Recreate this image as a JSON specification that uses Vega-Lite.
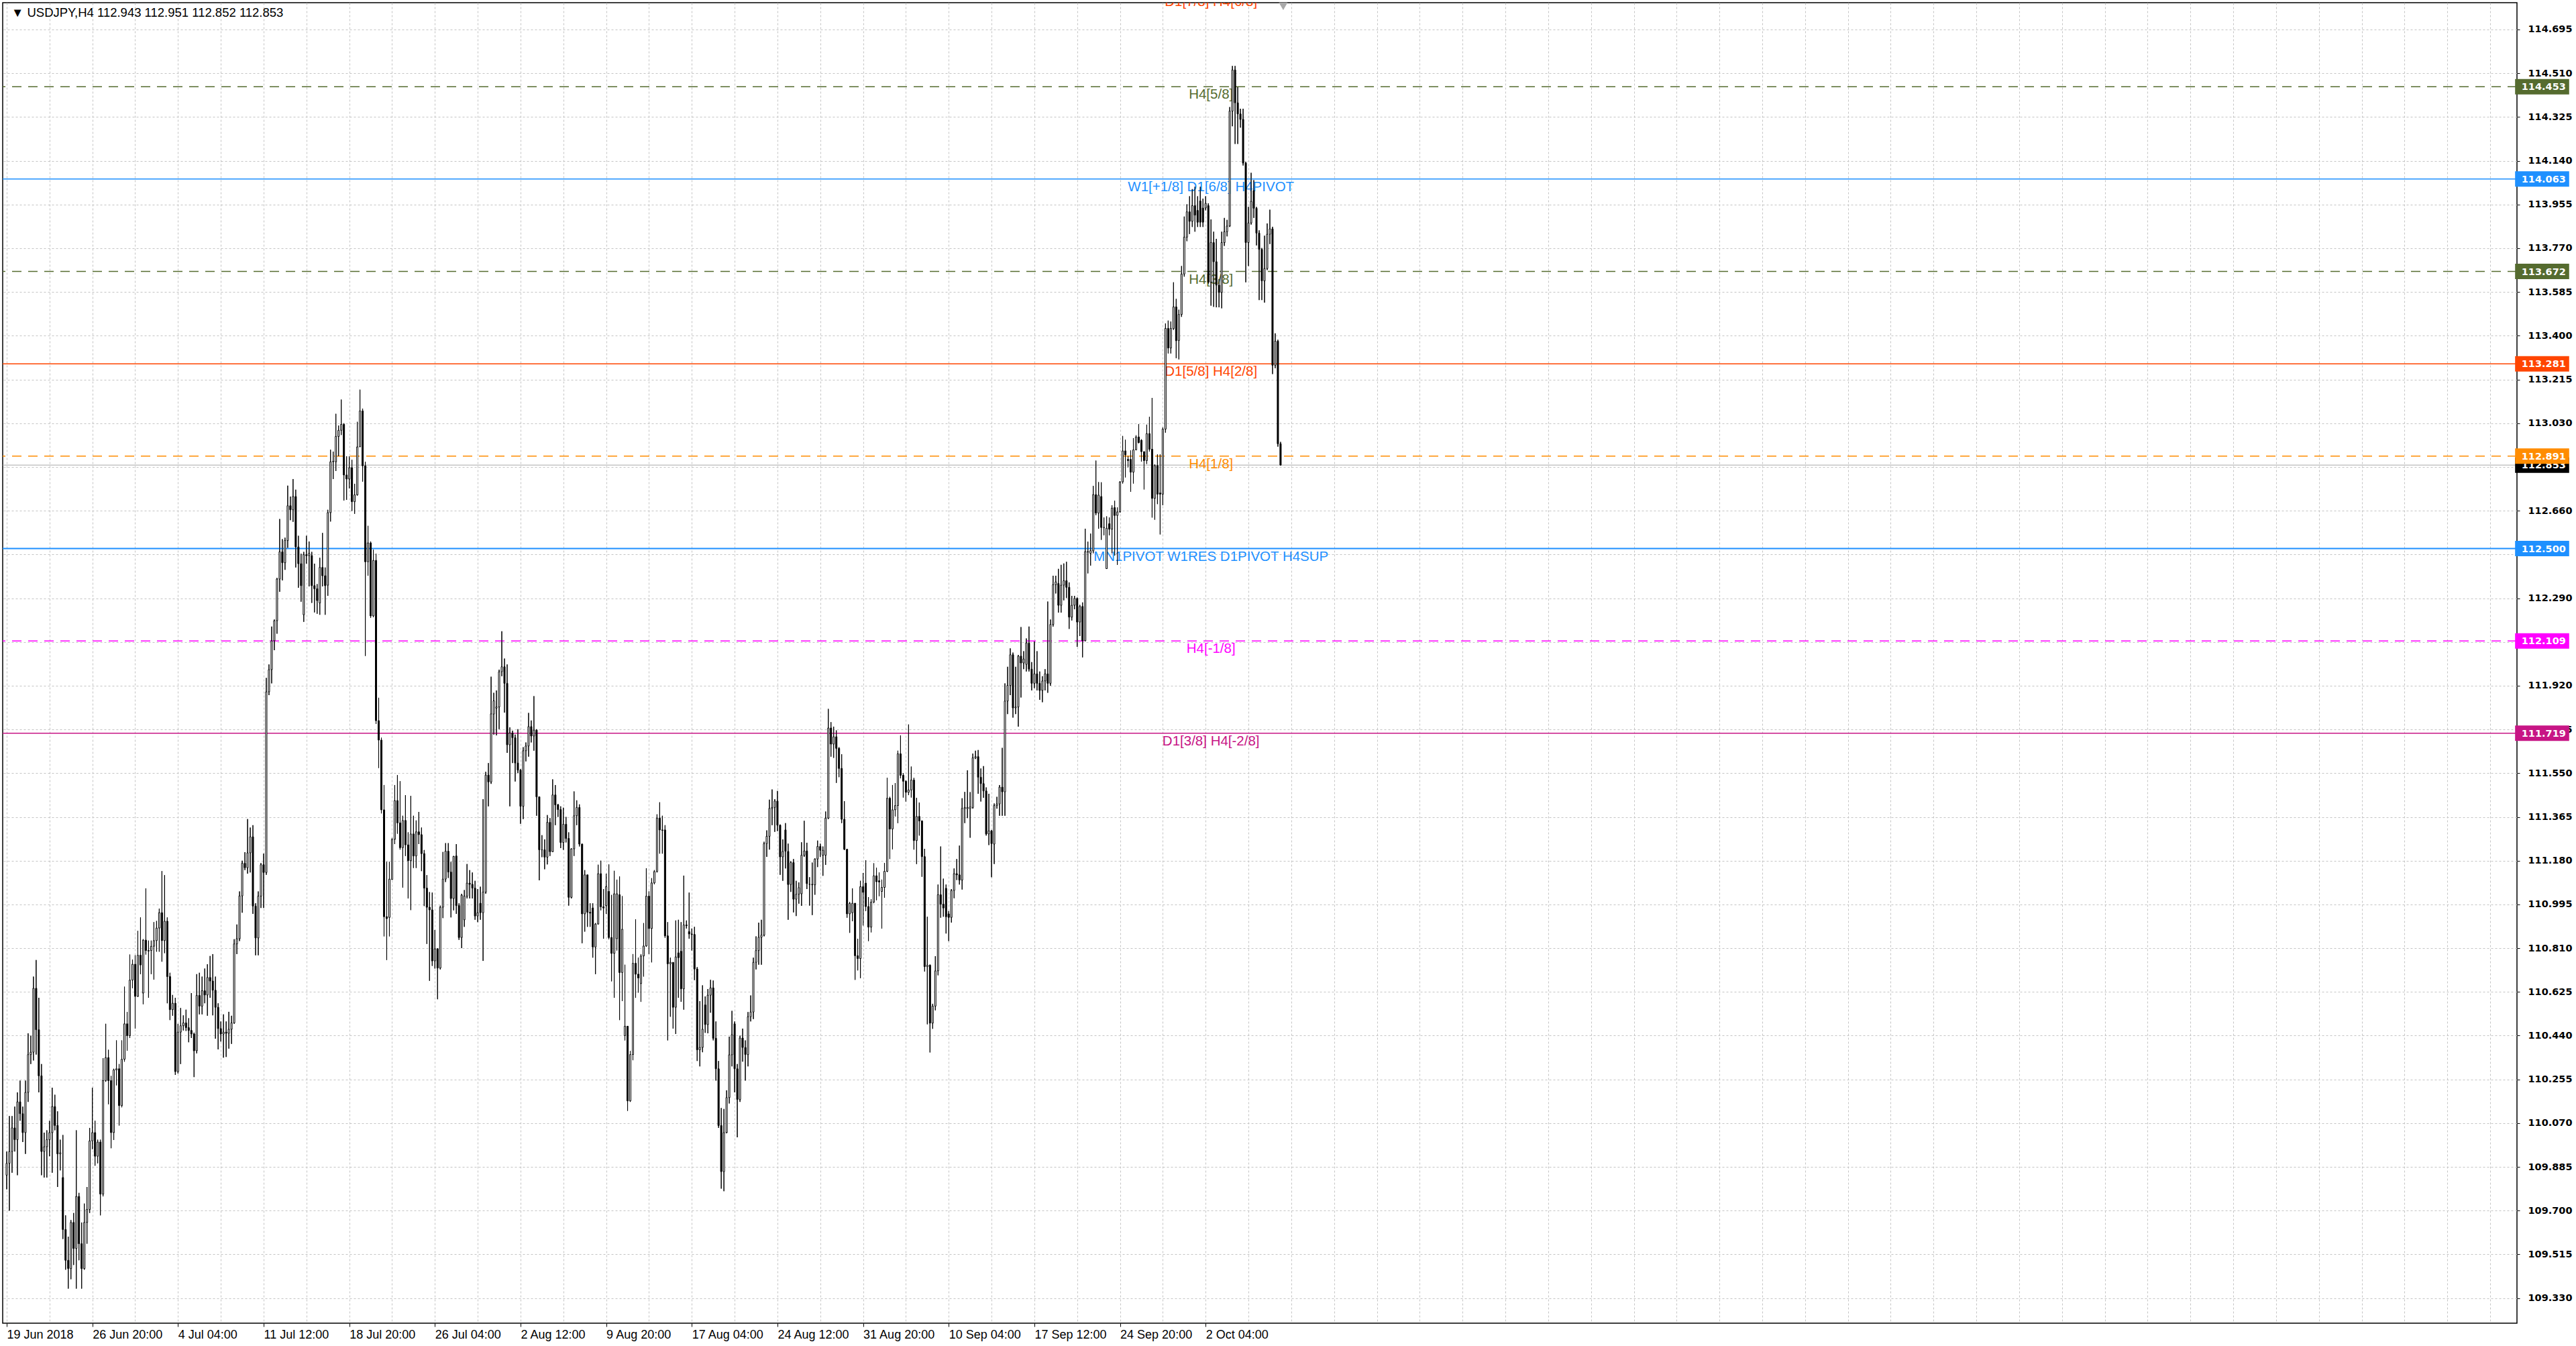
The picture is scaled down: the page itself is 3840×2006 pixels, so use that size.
{
  "$schema": "https://vega.github.io/schema/vega-lite/v6.json",
  "autosize": {"type": "none"},
  "width": 3748,
  "height": 1968,
  "padding": {"left": 4, "top": 4, "right": 88, "bottom": 34},
  "background": "white",
  "datasets": {
    "levels": [
      {"name": "D1[7/8] H4[6/8]", "price": 114.844},
      {"name": "H4[5/8]", "price": 114.453},
      {"name": "W1[+1/8] D1[6/8] H4PIVOT", "price": 114.063},
      {"name": "H4[3/8]", "price": 113.672},
      {"name": "D1[5/8] H4[2/8]", "price": 113.281},
      {"name": "H4[1/8]", "price": 112.891},
      {"name": "MN1PIVOT W1RES D1PIVOT H4SUP", "price": 112.5},
      {"name": "H4[-1/8]", "price": 112.109},
      {"name": "D1[3/8] H4[-2/8]", "price": 111.719}
    ],
    "bars": [
      {"i":0,"o":109.85,"h":109.95,"l":109.79,"c":109.9},
      {"i":1,"o":109.9,"h":110.1,"l":109.7,"c":109.95},
      {"i":2,"o":109.95,"h":110.1,"l":109.86,"c":110.05},
      {"i":3,"o":110.05,"h":110.14,"l":109.95,"c":110.0},
      {"i":4,"o":110.0,"h":110.2,"l":109.85,"c":110.16},
      {"i":5,"o":110.16,"h":110.25,"l":110.08,"c":110.11},
      {"i":6,"o":110.11,"h":110.14,"l":109.99,"c":110.03},
      {"i":7,"o":110.03,"h":110.25,"l":109.94,"c":110.2},
      {"i":8,"o":110.2,"h":110.45,"l":110.16,"c":110.36},
      {"i":9,"o":110.36,"h":110.44,"l":110.32,"c":110.37},
      {"i":10,"o":110.37,"h":110.69,"l":110.335,"c":110.64},
      {"i":11,"o":110.64,"h":110.76,"l":110.36,"c":110.465},
      {"i":12,"o":110.465,"h":110.6,"l":110.2,"c":110.27},
      {"i":13,"o":110.27,"h":110.32,"l":109.85,"c":109.95},
      {"i":14,"o":109.95,"h":110.03,"l":109.84,"c":109.97},
      {"i":15,"o":109.97,"h":110.04,"l":109.84,"c":110.0},
      {"i":16,"o":110.0,"h":110.08,"l":109.93,"c":110.03},
      {"i":17,"o":110.03,"h":110.22,"l":109.86,"c":110.14},
      {"i":18,"o":110.14,"h":110.19,"l":110.04,"c":110.06},
      {"i":19,"o":110.06,"h":110.12,"l":109.8,"c":109.94},
      {"i":20,"o":109.94,"h":110.0,"l":109.87,"c":109.945},
      {"i":21,"o":109.84,"h":110.02,"l":109.58,"c":109.62},
      {"i":22,"o":109.62,"h":109.68,"l":109.45,"c":109.49},
      {"i":23,"o":109.49,"h":109.59,"l":109.37,"c":109.455},
      {"i":24,"o":109.455,"h":109.66,"l":109.41,"c":109.65},
      {"i":25,"o":109.65,"h":109.69,"l":109.47,"c":109.54},
      {"i":26,"o":109.54,"h":110.04,"l":109.37,"c":109.76},
      {"i":27,"o":109.76,"h":109.775,"l":109.49,"c":109.56},
      {"i":28,"o":109.56,"h":109.65,"l":109.37,"c":109.455},
      {"i":29,"o":109.455,"h":109.73,"l":109.45,"c":109.65},
      {"i":30,"o":109.65,"h":109.8,"l":109.56,"c":109.705},
      {"i":31,"o":109.705,"h":110.05,"l":109.69,"c":109.995},
      {"i":32,"o":109.995,"h":110.22,"l":109.96,"c":110.03},
      {"i":33,"o":110.03,"h":110.08,"l":109.89,"c":109.93},
      {"i":34,"o":109.93,"h":110.0,"l":109.9,"c":109.99},
      {"i":35,"o":109.99,"h":110.0,"l":109.68,"c":109.77},
      {"i":36,"o":109.77,"h":110.345,"l":109.76,"c":110.25},
      {"i":37,"o":110.25,"h":110.49,"l":110.245,"c":110.347},
      {"i":38,"o":110.347,"h":110.38,"l":110.15,"c":110.25},
      {"i":39,"o":110.25,"h":110.27,"l":109.964,"c":110.03},
      {"i":40,"o":110.03,"h":110.3,"l":109.999,"c":110.295},
      {"i":41,"o":110.295,"h":110.42,"l":110.23,"c":110.3},
      {"i":42,"o":110.3,"h":110.32,"l":110.06,"c":110.144},
      {"i":43,"o":110.144,"h":110.42,"l":110.137,"c":110.34},
      {"i":44,"o":110.34,"h":110.647,"l":110.33,"c":110.49},
      {"i":45,"o":110.49,"h":110.54,"l":110.376,"c":110.44},
      {"i":46,"o":110.44,"h":110.783,"l":110.43,"c":110.675},
      {"i":47,"o":110.675,"h":110.762,"l":110.641,"c":110.742},
      {"i":48,"o":110.742,"h":110.78,"l":110.47,"c":110.606},
      {"i":49,"o":110.606,"h":110.883,"l":110.604,"c":110.78},
      {"i":50,"o":110.78,"h":110.94,"l":110.7,"c":110.739},
      {"i":51,"o":110.62,"h":110.848,"l":110.573,"c":110.844},
      {"i":52,"o":110.844,"h":111.063,"l":110.783,"c":110.8},
      {"i":53,"o":110.8,"h":110.842,"l":110.6,"c":110.798},
      {"i":54,"o":110.8,"h":110.842,"l":110.7,"c":110.818},
      {"i":55,"o":110.818,"h":110.92,"l":110.677,"c":110.842},
      {"i":56,"o":110.842,"h":110.925,"l":110.795,"c":110.895},
      {"i":57,"o":110.895,"h":110.977,"l":110.795,"c":110.96},
      {"i":58,"o":110.96,"h":111.136,"l":110.753,"c":110.842},
      {"i":59,"o":110.842,"h":111.119,"l":110.789,"c":110.924},
      {"i":60,"o":110.924,"h":110.94,"l":110.577,"c":110.69},
      {"i":61,"o":110.69,"h":110.706,"l":110.506,"c":110.55},
      {"i":62,"o":110.55,"h":110.612,"l":110.524,"c":110.577},
      {"i":63,"o":110.577,"h":110.6,"l":110.274,"c":110.288},
      {"i":64,"o":110.288,"h":110.49,"l":110.28,"c":110.455},
      {"i":65,"o":110.455,"h":110.557,"l":110.32,"c":110.482},
      {"i":66,"o":110.482,"h":110.526,"l":110.462,"c":110.494},
      {"i":67,"o":110.494,"h":110.55,"l":110.46,"c":110.474},
      {"i":68,"o":110.474,"h":110.514,"l":110.412,"c":110.462},
      {"i":69,"o":110.462,"h":110.62,"l":110.43,"c":110.447},
      {"i":70,"o":110.447,"h":110.453,"l":110.265,"c":110.376},
      {"i":71,"o":110.376,"h":110.7,"l":110.365,"c":110.61},
      {"i":72,"o":110.61,"h":110.706,"l":110.53,"c":110.565},
      {"i":73,"o":110.565,"h":110.69,"l":110.53,"c":110.63},
      {"i":74,"o":110.63,"h":110.724,"l":110.577,"c":110.612},
      {"i":75,"o":110.612,"h":110.742,"l":110.524,"c":110.686},
      {"i":76,"o":110.686,"h":110.777,"l":110.6,"c":110.671},
      {"i":77,"o":110.671,"h":110.785,"l":110.526,"c":110.632},
      {"i":78,"o":110.632,"h":110.69,"l":110.427,"c":110.56},
      {"i":79,"o":110.56,"h":110.577,"l":110.382,"c":110.47},
      {"i":80,"o":110.47,"h":110.5,"l":110.415,"c":110.447},
      {"i":81,"o":110.447,"h":110.53,"l":110.347,"c":110.455},
      {"i":82,"o":110.455,"h":110.5,"l":110.35,"c":110.45},
      {"i":83,"o":110.45,"h":110.541,"l":110.385,"c":110.467},
      {"i":84,"o":110.467,"h":110.524,"l":110.405,"c":110.494},
      {"i":85,"o":110.494,"h":110.848,"l":110.49,"c":110.828},
      {"i":86,"o":110.828,"h":110.91,"l":110.785,"c":110.85},
      {"i":87,"o":110.85,"h":111.05,"l":110.84,"c":111.031},
      {"i":88,"o":111.031,"h":111.18,"l":110.96,"c":111.169},
      {"i":89,"o":111.169,"h":111.216,"l":111.14,"c":111.15},
      {"i":90,"o":111.15,"h":111.356,"l":111.125,"c":111.213},
      {"i":91,"o":111.213,"h":111.32,"l":111.13,"c":111.281},
      {"i":92,"o":111.281,"h":111.33,"l":110.955,"c":110.988},
      {"i":93,"o":110.988,"h":111.0,"l":110.78,"c":110.853},
      {"i":94,"o":110.853,"h":111.05,"l":110.78,"c":111.03},
      {"i":95,"o":111.03,"h":111.17,"l":110.98,"c":111.163},
      {"i":96,"o":111.163,"h":111.21,"l":110.98,"c":111.13},
      {"i":97,"o":111.13,"h":111.953,"l":111.12,"c":111.894},
      {"i":98,"o":111.894,"h":112.01,"l":111.88,"c":111.988},
      {"i":99,"o":111.988,"h":112.17,"l":111.93,"c":112.11},
      {"i":100,"o":112.11,"h":112.2,"l":112.07,"c":112.195},
      {"i":101,"o":112.195,"h":112.376,"l":112.14,"c":112.371},
      {"i":102,"o":112.371,"h":112.625,"l":112.317,"c":112.486},
      {"i":103,"o":112.486,"h":112.54,"l":112.365,"c":112.44},
      {"i":104,"o":112.44,"h":112.546,"l":112.41,"c":112.534},
      {"i":105,"o":112.534,"h":112.766,"l":112.503,"c":112.681},
      {"i":106,"o":112.681,"h":112.72,"l":112.62,"c":112.664},
      {"i":107,"o":112.664,"h":112.794,"l":112.613,"c":112.72},
      {"i":108,"o":112.72,"h":112.749,"l":112.42,"c":112.507},
      {"i":109,"o":112.507,"h":112.554,"l":112.334,"c":112.436},
      {"i":110,"o":112.436,"h":112.478,"l":112.275,"c":112.343},
      {"i":111,"o":112.22,"h":112.486,"l":112.19,"c":112.474},
      {"i":112,"o":112.474,"h":112.554,"l":112.436,"c":112.47},
      {"i":113,"o":112.47,"h":112.53,"l":112.34,"c":112.48},
      {"i":114,"o":112.47,"h":112.486,"l":112.27,"c":112.343},
      {"i":115,"o":112.343,"h":112.436,"l":112.23,"c":112.33},
      {"i":116,"o":112.33,"h":112.35,"l":112.224,"c":112.28},
      {"i":117,"o":112.27,"h":112.461,"l":112.22,"c":112.42},
      {"i":118,"o":112.42,"h":112.566,"l":112.34,"c":112.385},
      {"i":119,"o":112.385,"h":112.42,"l":112.22,"c":112.343},
      {"i":120,"o":112.345,"h":112.664,"l":112.3,"c":112.652},
      {"i":121,"o":112.652,"h":112.918,"l":112.614,"c":112.867},
      {"i":122,"o":112.867,"h":112.91,"l":112.794,"c":112.869},
      {"i":123,"o":112.867,"h":113.07,"l":112.828,"c":112.974},
      {"i":124,"o":112.974,"h":113.02,"l":112.89,"c":113.0},
      {"i":125,"o":113.0,"h":113.13,"l":112.98,"c":113.025},
      {"i":126,"o":113.025,"h":113.03,"l":112.703,"c":112.811},
      {"i":127,"o":112.811,"h":112.89,"l":112.706,"c":112.794},
      {"i":128,"o":112.794,"h":112.89,"l":112.754,"c":112.842},
      {"i":129,"o":112.842,"h":112.875,"l":112.659,"c":112.698},
      {"i":130,"o":112.698,"h":112.774,"l":112.647,"c":112.727},
      {"i":131,"o":112.727,"h":113.036,"l":112.724,"c":112.93},
      {"i":132,"o":112.93,"h":113.172,"l":112.93,"c":113.082},
      {"i":133,"o":113.082,"h":113.092,"l":112.783,"c":112.85},
      {"i":134,"o":112.85,"h":112.867,"l":112.046,"c":112.444},
      {"i":135,"o":112.444,"h":112.596,"l":112.385,"c":112.524},
      {"i":136,"o":112.524,"h":112.53,"l":112.207,"c":112.215},
      {"i":137,"o":112.215,"h":112.495,"l":112.21,"c":112.45},
      {"i":138,"o":112.45,"h":112.478,"l":111.758,"c":111.772},
      {"i":139,"o":111.772,"h":111.869,"l":111.572,"c":111.69},
      {"i":140,"o":111.69,"h":111.7,"l":111.38,"c":111.395},
      {"i":141,"o":111.395,"h":111.5,"l":110.86,"c":110.943},
      {"i":142,"o":110.943,"h":111.175,"l":110.76,"c":110.935},
      {"i":143,"o":110.94,"h":111.175,"l":110.86,"c":111.102},
      {"i":144,"o":111.1,"h":111.276,"l":111.1,"c":111.27},
      {"i":145,"o":111.27,"h":111.5,"l":111.25,"c":111.434},
      {"i":146,"o":111.434,"h":111.542,"l":111.294,"c":111.34},
      {"i":147,"o":111.34,"h":111.516,"l":111.227,"c":111.235},
      {"i":148,"o":111.235,"h":111.37,"l":111.066,"c":111.35},
      {"i":149,"o":111.35,"h":111.457,"l":111.2,"c":111.247},
      {"i":150,"o":111.247,"h":111.3,"l":111.02,"c":111.18},
      {"i":151,"o":111.18,"h":111.454,"l":110.971,"c":111.293},
      {"i":152,"o":111.293,"h":111.37,"l":111.149,"c":111.2},
      {"i":153,"o":111.2,"h":111.35,"l":111.149,"c":111.302},
      {"i":154,"o":111.302,"h":111.386,"l":111.25,"c":111.29},
      {"i":155,"o":111.29,"h":111.32,"l":111.136,"c":111.21},
      {"i":156,"o":111.21,"h":111.225,"l":110.988,"c":111.064},
      {"i":157,"o":111.064,"h":111.119,"l":110.828,"c":110.983},
      {"i":158,"o":110.983,"h":111.047,"l":110.672,"c":110.972},
      {"i":159,"o":110.972,"h":111.045,"l":110.735,"c":110.756},
      {"i":160,"o":110.756,"h":110.887,"l":110.724,"c":110.807},
      {"i":161,"o":110.807,"h":110.81,"l":110.594,"c":110.726},
      {"i":162,"o":110.726,"h":110.99,"l":110.72,"c":110.983},
      {"i":163,"o":110.983,"h":111.217,"l":110.937,"c":111.102},
      {"i":164,"o":111.102,"h":111.254,"l":111.09,"c":111.22},
      {"i":165,"o":111.22,"h":111.254,"l":111.107,"c":111.132},
      {"i":166,"o":111.132,"h":111.175,"l":110.94,"c":111.02},
      {"i":167,"o":111.02,"h":111.2,"l":110.97,"c":111.198},
      {"i":168,"o":111.2,"h":111.25,"l":110.955,"c":110.99},
      {"i":169,"o":110.99,"h":111.0,"l":110.845,"c":110.855},
      {"i":170,"o":110.855,"h":111.04,"l":110.81,"c":111.034},
      {"i":171,"o":110.93,"h":111.056,"l":110.9,"c":111.03},
      {"i":172,"o":111.03,"h":111.166,"l":111.02,"c":111.085},
      {"i":173,"o":111.085,"h":111.14,"l":111.02,"c":111.08},
      {"i":174,"o":111.08,"h":111.13,"l":111.02,"c":111.064},
      {"i":175,"o":111.064,"h":111.095,"l":110.93,"c":110.946},
      {"i":176,"o":110.946,"h":111.06,"l":110.92,"c":110.96},
      {"i":177,"o":111.0,"h":111.07,"l":110.93,"c":110.96},
      {"i":178,"o":110.96,"h":111.44,"l":110.756,"c":111.047},
      {"i":179,"o":111.047,"h":111.556,"l":111.04,"c":111.542},
      {"i":180,"o":111.542,"h":111.593,"l":111.41,"c":111.513},
      {"i":181,"o":111.513,"h":111.958,"l":111.505,"c":111.801},
      {"i":182,"o":111.8,"h":111.89,"l":111.713,"c":111.856},
      {"i":183,"o":111.825,"h":111.9,"l":111.71,"c":111.83},
      {"i":184,"o":111.83,"h":111.988,"l":111.736,"c":111.979},
      {"i":185,"o":111.979,"h":112.15,"l":111.96,"c":112.0},
      {"i":186,"o":112.0,"h":112.035,"l":111.806,"c":111.93},
      {"i":187,"o":111.93,"h":112.01,"l":111.636,"c":111.67},
      {"i":188,"o":111.67,"h":111.744,"l":111.41,"c":111.72},
      {"i":189,"o":111.72,"h":111.73,"l":111.593,"c":111.7},
      {"i":190,"o":111.7,"h":111.713,"l":111.515,"c":111.593},
      {"i":191,"o":111.593,"h":111.736,"l":111.55,"c":111.563},
      {"i":192,"o":111.563,"h":111.567,"l":111.336,"c":111.41},
      {"i":193,"o":111.41,"h":111.66,"l":111.356,"c":111.645},
      {"i":194,"o":111.645,"h":111.68,"l":111.6,"c":111.665},
      {"i":195,"o":111.665,"h":111.805,"l":111.62,"c":111.747},
      {"i":196,"o":111.747,"h":111.773,"l":111.68,"c":111.707},
      {"i":197,"o":111.707,"h":111.876,"l":111.645,"c":111.732},
      {"i":198,"o":111.732,"h":111.736,"l":111.37,"c":111.45},
      {"i":199,"o":111.45,"h":111.45,"l":111.097,"c":111.226},
      {"i":200,"o":111.226,"h":111.288,"l":111.195,"c":111.226},
      {"i":201,"o":111.226,"h":111.27,"l":111.144,"c":111.195},
      {"i":202,"o":111.195,"h":111.373,"l":111.164,"c":111.342},
      {"i":203,"o":111.342,"h":111.36,"l":111.2,"c":111.218},
      {"i":204,"o":111.218,"h":111.524,"l":111.216,"c":111.458},
      {"i":205,"o":111.458,"h":111.5,"l":111.33,"c":111.416},
      {"i":206,"o":111.416,"h":111.42,"l":111.365,"c":111.396},
      {"i":207,"o":111.396,"h":111.41,"l":111.233,"c":111.257},
      {"i":208,"o":111.257,"h":111.404,"l":111.226,"c":111.334},
      {"i":209,"o":111.334,"h":111.365,"l":111.257,"c":111.274},
      {"i":210,"o":111.274,"h":111.3,"l":110.99,"c":111.025},
      {"i":211,"o":111.025,"h":111.232,"l":111.02,"c":111.23},
      {"i":212,"o":111.23,"h":111.473,"l":111.2,"c":111.37},
      {"i":213,"o":111.37,"h":111.435,"l":111.33,"c":111.405},
      {"i":214,"o":111.405,"h":111.418,"l":111.24,"c":111.25},
      {"i":215,"o":111.25,"h":111.252,"l":110.831,"c":110.955},
      {"i":216,"o":110.955,"h":111.14,"l":110.88,"c":111.12},
      {"i":217,"o":111.12,"h":111.12,"l":110.9,"c":110.962},
      {"i":218,"o":110.962,"h":111.0,"l":110.9,"c":110.958},
      {"i":219,"o":110.98,"h":111.0,"l":110.77,"c":110.815},
      {"i":220,"o":110.815,"h":110.916,"l":110.7,"c":110.912},
      {"i":221,"o":110.912,"h":111.163,"l":110.91,"c":111.125},
      {"i":222,"o":111.125,"h":111.18,"l":110.97,"c":110.985},
      {"i":223,"o":110.985,"h":111.06,"l":110.85,"c":110.98},
      {"i":224,"o":110.99,"h":111.125,"l":110.955,"c":111.07},
      {"i":225,"o":111.05,"h":111.164,"l":110.847,"c":110.855},
      {"i":226,"o":110.855,"h":111.035,"l":110.67,"c":110.788},
      {"i":227,"o":110.788,"h":111.137,"l":110.6,"c":111.04},
      {"i":228,"o":110.85,"h":111.1,"l":110.8,"c":111.04},
      {"i":229,"o":111.036,"h":111.113,"l":110.506,"c":110.707},
      {"i":230,"o":110.707,"h":111.03,"l":110.586,"c":110.89},
      {"i":231,"o":110.44,"h":110.74,"l":110.42,"c":110.48},
      {"i":232,"o":110.48,"h":110.48,"l":110.122,"c":110.164},
      {"i":233,"o":110.164,"h":110.375,"l":110.16,"c":110.36},
      {"i":234,"o":110.36,"h":110.785,"l":110.336,"c":110.746},
      {"i":235,"o":110.746,"h":110.932,"l":110.6,"c":110.7},
      {"i":236,"o":110.7,"h":110.77,"l":110.622,"c":110.684},
      {"i":237,"o":110.66,"h":110.785,"l":110.583,"c":110.777},
      {"i":238,"o":110.777,"h":110.916,"l":110.69,"c":110.819},
      {"i":239,"o":110.819,"h":111.148,"l":110.816,"c":111.03},
      {"i":240,"o":111.03,"h":111.05,"l":110.785,"c":110.893},
      {"i":241,"o":110.893,"h":111.106,"l":110.75,"c":111.086},
      {"i":242,"o":111.086,"h":111.14,"l":111.08,"c":111.134},
      {"i":243,"o":111.134,"h":111.376,"l":111.13,"c":111.36},
      {"i":244,"o":111.36,"h":111.427,"l":111.21,"c":111.31},
      {"i":245,"o":111.31,"h":111.37,"l":111.21,"c":111.308},
      {"i":246,"o":111.31,"h":111.33,"l":110.854,"c":110.862},
      {"i":247,"o":110.862,"h":110.92,"l":110.42,"c":110.744},
      {"i":248,"o":110.744,"h":110.77,"l":110.52,"c":110.75},
      {"i":249,"o":110.75,"h":110.75,"l":110.47,"c":110.56},
      {"i":250,"o":110.56,"h":110.927,"l":110.447,"c":110.773},
      {"i":251,"o":110.79,"h":110.93,"l":110.6,"c":110.77},
      {"i":252,"o":110.797,"h":110.92,"l":110.583,"c":110.638},
      {"i":253,"o":110.638,"h":111.117,"l":110.55,"c":110.908},
      {"i":254,"o":110.908,"h":110.927,"l":110.893,"c":110.905},
      {"i":255,"o":110.88,"h":111.045,"l":110.85,"c":110.87},
      {"i":256,"o":110.87,"h":110.893,"l":110.8,"c":110.868},
      {"i":257,"o":110.868,"h":110.9,"l":110.675,"c":110.722},
      {"i":258,"o":110.722,"h":110.73,"l":110.333,"c":110.38},
      {"i":259,"o":110.38,"h":110.586,"l":110.31,"c":110.39},
      {"i":260,"o":110.39,"h":110.653,"l":110.37,"c":110.467},
      {"i":261,"o":110.57,"h":110.606,"l":110.452,"c":110.487},
      {"i":262,"o":110.487,"h":110.637,"l":110.45,"c":110.611},
      {"i":263,"o":110.611,"h":110.676,"l":110.537,"c":110.642},
      {"i":264,"o":110.642,"h":110.673,"l":110.42,"c":110.429},
      {"i":265,"o":110.429,"h":110.5,"l":110.25,"c":110.3},
      {"i":266,"o":110.3,"h":110.333,"l":110.05,"c":110.06},
      {"i":267,"o":110.06,"h":110.134,"l":109.793,"c":109.865},
      {"i":268,"o":109.865,"h":110.13,"l":109.782,"c":110.03},
      {"i":269,"o":110.03,"h":110.209,"l":110.027,"c":110.178},
      {"i":270,"o":110.178,"h":110.436,"l":110.153,"c":110.359},
      {"i":271,"o":110.359,"h":110.545,"l":110.31,"c":110.444},
      {"i":272,"o":110.49,"h":110.5,"l":110.2,"c":110.3},
      {"i":273,"o":110.3,"h":110.32,"l":110.01,"c":110.17},
      {"i":274,"o":110.17,"h":110.44,"l":110.16,"c":110.43},
      {"i":275,"o":110.43,"h":110.47,"l":110.33,"c":110.39},
      {"i":276,"o":110.39,"h":110.42,"l":110.25,"c":110.36},
      {"i":277,"o":110.36,"h":110.54,"l":110.31,"c":110.52},
      {"i":278,"o":110.52,"h":110.61,"l":110.5,"c":110.54},
      {"i":279,"o":110.54,"h":110.77,"l":110.51,"c":110.75},
      {"i":280,"o":110.75,"h":110.86,"l":110.72,"c":110.8},
      {"i":281,"o":110.8,"h":110.918,"l":110.74,"c":110.856},
      {"i":282,"o":110.856,"h":110.93,"l":110.74,"c":110.865},
      {"i":283,"o":110.865,"h":111.26,"l":110.86,"c":111.252},
      {"i":284,"o":111.252,"h":111.308,"l":111.196,"c":111.283},
      {"i":285,"o":111.283,"h":111.438,"l":111.227,"c":111.401},
      {"i":286,"o":111.4,"h":111.481,"l":111.33,"c":111.405},
      {"i":287,"o":111.405,"h":111.44,"l":111.302,"c":111.432},
      {"i":288,"o":111.432,"h":111.475,"l":111.305,"c":111.33},
      {"i":289,"o":111.33,"h":111.333,"l":111.12,"c":111.196},
      {"i":290,"o":111.196,"h":111.27,"l":111.095,"c":111.219},
      {"i":291,"o":111.31,"h":111.339,"l":111.147,"c":111.22},
      {"i":292,"o":111.219,"h":111.252,"l":110.93,"c":111.079},
      {"i":293,"o":111.079,"h":111.178,"l":111.048,"c":111.172},
      {"i":294,"o":111.172,"h":111.187,"l":110.961,"c":111.017},
      {"i":295,"o":111.017,"h":111.095,"l":110.946,"c":111.038},
      {"i":296,"o":111.038,"h":111.088,"l":110.998,"c":111.066},
      {"i":297,"o":111.04,"h":111.258,"l":110.989,"c":111.203},
      {"i":298,"o":111.203,"h":111.349,"l":111.196,"c":111.221},
      {"i":299,"o":111.221,"h":111.256,"l":111.06,"c":111.083},
      {"i":300,"o":111.08,"h":111.11,"l":110.99,"c":111.08},
      {"i":301,"o":111.08,"h":111.172,"l":110.95,"c":111.078},
      {"i":302,"o":111.078,"h":111.19,"l":111.036,"c":111.187},
      {"i":303,"o":111.187,"h":111.265,"l":111.153,"c":111.24},
      {"i":304,"o":111.24,"h":111.252,"l":111.196,"c":111.224},
      {"i":305,"o":111.203,"h":111.24,"l":111.116,"c":111.224},
      {"i":306,"o":111.203,"h":111.388,"l":111.162,"c":111.36},
      {"i":307,"o":111.36,"h":111.822,"l":111.356,"c":111.741},
      {"i":308,"o":111.741,"h":111.766,"l":111.62,"c":111.673},
      {"i":309,"o":111.673,"h":111.747,"l":111.615,"c":111.704},
      {"i":310,"o":111.704,"h":111.731,"l":111.509,"c":111.655},
      {"i":311,"o":111.655,"h":111.66,"l":111.533,"c":111.57},
      {"i":312,"o":111.57,"h":111.63,"l":111.339,"c":111.355},
      {"i":313,"o":111.355,"h":111.432,"l":111.225,"c":111.228},
      {"i":314,"o":111.228,"h":111.23,"l":110.939,"c":110.955},
      {"i":315,"o":110.955,"h":111.005,"l":110.875,"c":110.999},
      {"i":316,"o":110.96,"h":111.063,"l":110.924,"c":111.0},
      {"i":317,"o":111.0,"h":111.0,"l":110.676,"c":110.778},
      {"i":318,"o":110.778,"h":110.85,"l":110.716,"c":110.766},
      {"i":319,"o":110.766,"h":111.095,"l":110.683,"c":111.07},
      {"i":320,"o":111.07,"h":111.128,"l":110.906,"c":111.046},
      {"i":321,"o":111.085,"h":111.182,"l":110.967,"c":110.986},
      {"i":322,"o":110.986,"h":111.026,"l":110.84,"c":110.899},
      {"i":323,"o":110.899,"h":111.017,"l":110.877,"c":111.005},
      {"i":324,"o":111.005,"h":111.169,"l":111.0,"c":111.116},
      {"i":325,"o":111.116,"h":111.15,"l":111.013,"c":111.091},
      {"i":326,"o":111.095,"h":111.13,"l":111.03,"c":111.09},
      {"i":327,"o":111.05,"h":111.1,"l":110.893,"c":111.067},
      {"i":328,"o":111.067,"h":111.17,"l":111.023,"c":111.135},
      {"i":329,"o":111.135,"h":111.531,"l":111.132,"c":111.444},
      {"i":330,"o":111.444,"h":111.45,"l":111.187,"c":111.314},
      {"i":331,"o":111.314,"h":111.5,"l":111.228,"c":111.395},
      {"i":332,"o":111.395,"h":111.508,"l":111.367,"c":111.413},
      {"i":333,"o":111.413,"h":111.645,"l":111.339,"c":111.632},
      {"i":334,"o":111.632,"h":111.71,"l":111.528,"c":111.541},
      {"i":335,"o":111.541,"h":111.55,"l":111.447,"c":111.516},
      {"i":336,"o":111.516,"h":111.52,"l":111.43,"c":111.469},
      {"i":337,"o":111.469,"h":111.756,"l":111.457,"c":111.479},
      {"i":338,"o":111.479,"h":111.578,"l":111.447,"c":111.521},
      {"i":339,"o":111.521,"h":111.53,"l":111.227,"c":111.265},
      {"i":340,"o":111.265,"h":111.446,"l":111.166,"c":111.367},
      {"i":341,"o":111.367,"h":111.426,"l":111.286,"c":111.348},
      {"i":342,"o":111.348,"h":111.35,"l":111.112,"c":111.197},
      {"i":343,"o":111.197,"h":111.23,"l":110.711,"c":110.732},
      {"i":344,"o":110.732,"h":110.943,"l":110.488,"c":110.738},
      {"i":345,"o":110.738,"h":110.741,"l":110.369,"c":110.493},
      {"i":346,"o":110.493,"h":110.575,"l":110.469,"c":110.565},
      {"i":347,"o":110.565,"h":110.776,"l":110.547,"c":110.714},
      {"i":348,"o":110.714,"h":111.079,"l":110.695,"c":111.036},
      {"i":349,"o":111.036,"h":111.24,"l":110.939,"c":110.996},
      {"i":350,"o":110.996,"h":111.104,"l":110.943,"c":110.98},
      {"i":351,"o":111.063,"h":111.079,"l":110.872,"c":110.943},
      {"i":352,"o":110.955,"h":110.967,"l":110.84,"c":110.94},
      {"i":353,"o":110.94,"h":111.06,"l":110.918,"c":111.054},
      {"i":354,"o":111.054,"h":111.147,"l":111.021,"c":111.125},
      {"i":355,"o":111.125,"h":111.187,"l":111.098,"c":111.12},
      {"i":356,"o":111.12,"h":111.244,"l":111.079,"c":111.098},
      {"i":357,"o":111.098,"h":111.444,"l":111.058,"c":111.401},
      {"i":358,"o":111.4,"h":111.471,"l":111.339,"c":111.405},
      {"i":359,"o":111.4,"h":111.562,"l":111.36,"c":111.405},
      {"i":360,"o":111.4,"h":111.47,"l":111.277,"c":111.407},
      {"i":361,"o":111.405,"h":111.633,"l":111.4,"c":111.615},
      {"i":362,"o":111.615,"h":111.645,"l":111.61,"c":111.62},
      {"i":363,"o":111.62,"h":111.648,"l":111.463,"c":111.533},
      {"i":364,"o":111.533,"h":111.57,"l":111.43,"c":111.506},
      {"i":365,"o":111.506,"h":111.58,"l":111.446,"c":111.475},
      {"i":366,"o":111.475,"h":111.49,"l":111.286,"c":111.293},
      {"i":367,"o":111.293,"h":111.463,"l":111.246,"c":111.306},
      {"i":368,"o":111.306,"h":111.31,"l":111.11,"c":111.252},
      {"i":369,"o":111.25,"h":111.422,"l":111.166,"c":111.413},
      {"i":370,"o":111.413,"h":111.45,"l":111.4,"c":111.42},
      {"i":371,"o":111.42,"h":111.5,"l":111.37,"c":111.491},
      {"i":372,"o":111.491,"h":111.657,"l":111.37,"c":111.471},
      {"i":373,"o":111.471,"h":111.93,"l":111.37,"c":111.855},
      {"i":374,"o":111.855,"h":112.0,"l":111.8,"c":111.921},
      {"i":375,"o":111.921,"h":112.078,"l":111.88,"c":112.051},
      {"i":376,"o":112.051,"h":112.06,"l":111.785,"c":111.826},
      {"i":377,"o":111.826,"h":112.0,"l":111.8,"c":111.83},
      {"i":378,"o":111.83,"h":112.05,"l":111.747,"c":112.045},
      {"i":379,"o":112.045,"h":112.168,"l":111.87,"c":112.016},
      {"i":380,"o":112.016,"h":112.066,"l":111.99,"c":112.033},
      {"i":381,"o":112.01,"h":112.12,"l":111.98,"c":112.101},
      {"i":382,"o":112.1,"h":112.17,"l":111.98,"c":111.99},
      {"i":383,"o":111.99,"h":112.02,"l":111.9,"c":111.93},
      {"i":384,"o":111.93,"h":112.107,"l":111.91,"c":111.97},
      {"i":385,"o":111.97,"h":112.066,"l":111.9,"c":111.93},
      {"i":386,"o":111.93,"h":111.98,"l":111.86,"c":111.9},
      {"i":387,"o":111.9,"h":111.96,"l":111.85,"c":111.94},
      {"i":388,"o":111.94,"h":111.99,"l":111.9,"c":111.97},
      {"i":389,"o":111.97,"h":112.276,"l":111.89,"c":111.93},
      {"i":390,"o":111.93,"h":112.2,"l":111.92,"c":112.179},
      {"i":391,"o":112.179,"h":112.385,"l":112.17,"c":112.347},
      {"i":392,"o":112.347,"h":112.385,"l":112.31,"c":112.359},
      {"i":393,"o":112.352,"h":112.414,"l":112.229,"c":112.26},
      {"i":394,"o":112.26,"h":112.431,"l":112.229,"c":112.345},
      {"i":395,"o":112.345,"h":112.437,"l":112.281,"c":112.364},
      {"i":396,"o":112.364,"h":112.444,"l":112.291,"c":112.336},
      {"i":397,"o":112.336,"h":112.357,"l":112.16,"c":112.21},
      {"i":398,"o":112.21,"h":112.3,"l":112.196,"c":112.26},
      {"i":399,"o":112.26,"h":112.3,"l":112.243,"c":112.289},
      {"i":400,"o":112.289,"h":112.293,"l":112.084,"c":112.189},
      {"i":401,"o":112.189,"h":112.262,"l":112.13,"c":112.255},
      {"i":402,"o":112.255,"h":112.272,"l":112.04,"c":112.11},
      {"i":403,"o":112.11,"h":112.584,"l":112.108,"c":112.487},
      {"i":404,"o":112.487,"h":112.529,"l":112.395,"c":112.485},
      {"i":405,"o":112.48,"h":112.563,"l":112.428,"c":112.491},
      {"i":406,"o":112.49,"h":112.765,"l":112.48,"c":112.728},
      {"i":407,"o":112.728,"h":112.872,"l":112.641,"c":112.65},
      {"i":408,"o":112.65,"h":112.781,"l":112.584,"c":112.726},
      {"i":409,"o":112.72,"h":112.78,"l":112.537,"c":112.589},
      {"i":410,"o":112.589,"h":112.631,"l":112.556,"c":112.589},
      {"i":411,"o":112.415,"h":112.636,"l":112.415,"c":112.586},
      {"i":412,"o":112.605,"h":112.631,"l":112.556,"c":112.582},
      {"i":413,"o":112.582,"h":112.683,"l":112.48,"c":112.671},
      {"i":414,"o":112.673,"h":112.702,"l":112.47,"c":112.64},
      {"i":415,"o":112.64,"h":112.674,"l":112.431,"c":112.655},
      {"i":416,"o":112.655,"h":112.785,"l":112.652,"c":112.782},
      {"i":417,"o":112.782,"h":112.976,"l":112.775,"c":112.913},
      {"i":418,"o":112.913,"h":112.96,"l":112.801,"c":112.896},
      {"i":419,"o":112.877,"h":112.891,"l":112.844,"c":112.872},
      {"i":420,"o":112.877,"h":112.915,"l":112.74,"c":112.823},
      {"i":421,"o":112.823,"h":112.967,"l":112.775,"c":112.917},
      {"i":422,"o":112.917,"h":112.979,"l":112.916,"c":112.972},
      {"i":423,"o":112.972,"h":113.026,"l":112.945,"c":112.948},
      {"i":424,"o":112.958,"h":112.962,"l":112.868,"c":112.91},
      {"i":425,"o":112.91,"h":112.91,"l":112.75,"c":112.872},
      {"i":426,"o":112.872,"h":113.024,"l":112.858,"c":112.986},
      {"i":427,"o":112.986,"h":113.057,"l":112.91,"c":112.92},
      {"i":428,"o":112.92,"h":113.137,"l":112.631,"c":112.712},
      {"i":429,"o":112.712,"h":112.856,"l":112.622,"c":112.851},
      {"i":430,"o":112.851,"h":112.898,"l":112.688,"c":112.73},
      {"i":431,"o":112.735,"h":112.898,"l":112.56,"c":112.73},
      {"i":432,"o":112.73,"h":113.012,"l":112.683,"c":113.005},
      {"i":433,"o":113.005,"h":113.452,"l":112.99,"c":113.431},
      {"i":434,"o":113.431,"h":113.464,"l":113.325,"c":113.348},
      {"i":435,"o":113.348,"h":113.46,"l":113.325,"c":113.431},
      {"i":436,"o":113.43,"h":113.626,"l":113.425,"c":113.522},
      {"i":437,"o":113.522,"h":113.556,"l":113.305,"c":113.379},
      {"i":438,"o":113.38,"h":113.51,"l":113.3,"c":113.49},
      {"i":439,"o":113.49,"h":113.695,"l":113.48,"c":113.661},
      {"i":440,"o":113.661,"h":113.904,"l":113.65,"c":113.817},
      {"i":441,"o":113.817,"h":113.956,"l":113.8,"c":113.924},
      {"i":442,"o":113.924,"h":113.99,"l":113.83,"c":113.884},
      {"i":443,"o":113.884,"h":114.02,"l":113.86,"c":113.95},
      {"i":444,"o":113.95,"h":114.03,"l":113.84,"c":113.91},
      {"i":445,"o":113.93,"h":113.99,"l":113.86,"c":113.88},
      {"i":446,"o":113.97,"h":114.03,"l":113.86,"c":113.88},
      {"i":447,"o":113.94,"h":113.98,"l":113.86,"c":113.88},
      {"i":448,"o":113.94,"h":113.99,"l":113.93,"c":113.96},
      {"i":449,"o":113.95,"h":113.96,"l":113.62,"c":113.626},
      {"i":450,"o":113.626,"h":113.892,"l":113.527,"c":113.794},
      {"i":451,"o":113.794,"h":113.84,"l":113.522,"c":113.713},
      {"i":452,"o":113.713,"h":113.81,"l":113.52,"c":113.614},
      {"i":453,"o":113.614,"h":113.64,"l":113.52,"c":113.583},
      {"i":454,"o":113.583,"h":113.84,"l":113.516,"c":113.794},
      {"i":455,"o":113.794,"h":113.898,"l":113.78,"c":113.84},
      {"i":456,"o":113.84,"h":113.89,"l":113.82,"c":113.864},
      {"i":457,"o":113.864,"h":114.367,"l":113.86,"c":114.35},
      {"i":458,"o":114.35,"h":114.541,"l":114.286,"c":114.524},
      {"i":459,"o":114.524,"h":114.541,"l":114.211,"c":114.385},
      {"i":460,"o":114.385,"h":114.452,"l":114.211,"c":114.338},
      {"i":461,"o":114.338,"h":114.36,"l":114.28,"c":114.315},
      {"i":462,"o":114.315,"h":114.36,"l":114.12,"c":114.13},
      {"i":463,"o":114.13,"h":114.136,"l":113.626,"c":113.794},
      {"i":464,"o":113.794,"h":113.945,"l":113.695,"c":113.877},
      {"i":465,"o":113.877,"h":114.089,"l":113.87,"c":113.968},
      {"i":466,"o":114.014,"h":114.058,"l":113.898,"c":113.939},
      {"i":467,"o":113.939,"h":113.945,"l":113.782,"c":113.834},
      {"i":468,"o":113.834,"h":113.846,"l":113.551,"c":113.765},
      {"i":469,"o":113.765,"h":113.771,"l":113.551,"c":113.632},
      {"i":470,"o":113.632,"h":113.823,"l":113.54,"c":113.684},
      {"i":471,"o":113.684,"h":113.875,"l":113.678,"c":113.829},
      {"i":472,"o":113.829,"h":113.933,"l":113.788,"c":113.852},
      {"i":473,"o":113.852,"h":113.861,"l":113.238,"c":113.275},
      {"i":474,"o":113.275,"h":113.41,"l":113.263,"c":113.377},
      {"i":475,"o":113.377,"h":113.383,"l":112.931,"c":112.943},
      {"i":476,"o":112.943,"h":112.951,"l":112.852,"c":112.853}
    ]
  },
  "layer": [
    {
      "data": {"name": "bars"},
      "mark": {"type": "rule", "color": "black", "strokeWidth": 1},
      "encoding": {
        "x": {
          "field": "i",
          "type": "quantitative",
          "title": null,
          "scale": {"domain": [-0.25, 936.75], "nice": false, "zero": false},
          "axis": {
            "values": [0,16,32,48,64,80,96,112,128,144,160,176,192,208,224,240,256,272,288,304,320,336,352,368,384,400,416,432,448,464,480,496,512,528,544,560,576,592,608,624,640,656,672,688,704,720,736,752,768,784,800,816,832,848,864,880,896,912,928],
            "labelExpr": "datum.value % 32 == 0 && datum.value <= 448 ? ['19 Jun 2018','26 Jun 20:00','4 Jul 04:00','11 Jul 12:00','18 Jul 20:00','26 Jul 04:00','2 Aug 12:00','9 Aug 20:00','17 Aug 04:00','24 Aug 12:00','31 Aug 20:00','10 Sep 04:00','17 Sep 12:00','24 Sep 20:00','2 Oct 04:00'][datum.value / 32] : ''",
            "labelAlign": "left",
            "labelBaseline": "top",
            "labelFont": "Liberation Sans",
            "labelFontSize": 18,
            "labelColor": "black",
            "labelPadding": 3,
            "labelOverlap": false,
            "labelFlush": false,
            "labelBound": false,
            "tickSize": 5,
            "tickColor": "black",
            "tickOpacity": {"condition": {"test": "datum.value % 32 == 0 && datum.value <= 448", "value": 1}, "value": 0},
            "domain": false,
            "grid": true,
            "gridColor": "#c4c4c4",
            "gridDash": [3, 3],
            "gridWidth": 1,
            "zindex": 0
          }
        },
        "y": {
          "field": "l",
          "type": "quantitative",
          "title": null,
          "scale": {"domain": [109.224, 114.8085], "nice": false, "zero": false},
          "axis": {
            "orient": "right",
            "values": [109.33,109.515,109.7,109.885,110.07,110.255,110.44,110.625,110.81,110.995,111.18,111.365,111.55,111.735,111.92,112.105,112.29,112.475,112.66,112.845,113.03,113.215,113.4,113.585,113.77,113.955,114.14,114.325,114.51,114.695],
            "labelExpr": "abs(datum.value - 112.845) < 0.001 || abs(datum.value - 112.475) < 0.001 || abs(datum.value - 112.105) < 0.001 ? '' : format(datum.value, '.3f')",
            "labelFont": "DejaVu Sans",
            "labelFontSize": 14.5,
            "labelFontWeight": "bold",
            "labelColor": "black",
            "labelAlign": "left",
            "labelBaseline": "middle",
            "labelPadding": 12,
            "labelOverlap": false,
            "labelFlush": false,
            "labelBound": false,
            "tickSize": 4,
            "tickColor": "black",
            "domain": false,
            "grid": true,
            "gridColor": "#c4c4c4",
            "gridDash": [3, 3],
            "gridWidth": 1,
            "zindex": 0
          }
        },
        "y2": {"field": "h"}
      }
    },
    {
      "data": {"values": [{"price": 112.853}]},
      "mark": {"type": "rule", "color": "#a8a8a8", "strokeWidth": 1},
      "encoding": {
        "y": {"field": "price", "type": "quantitative", "title": null, "scale": {"domain": [109.224, 114.8085], "nice": false, "zero": false}}
      }
    },
    {
      "data": {"name": "levels"},
      "mark": {"type": "rule", "clip": true},
      "encoding": {
        "y": {"field": "price", "type": "quantitative", "title": null, "scale": {"domain": [109.224, 114.8085], "nice": false, "zero": false}},
        "color": {
          "field": "name",
          "type": "nominal",
          "legend": null,
          "scale": {
            "domain": ["D1[7/8] H4[6/8]","H4[5/8]","W1[+1/8] D1[6/8] H4PIVOT","H4[3/8]","D1[5/8] H4[2/8]","H4[1/8]","MN1PIVOT W1RES D1PIVOT H4SUP","H4[-1/8]","D1[3/8] H4[-2/8]"],
            "range": ["#FF4500","#556B2F","#1E90FF","#556B2F","#FF4500","#FF8C00","#1E90FF","#FF00FF","#C71585"]
          }
        },
        "strokeDash": {
          "field": "name",
          "type": "nominal",
          "legend": null,
          "scale": {
            "domain": ["D1[7/8] H4[6/8]","H4[5/8]","W1[+1/8] D1[6/8] H4PIVOT","H4[3/8]","D1[5/8] H4[2/8]","H4[1/8]","MN1PIVOT W1RES D1PIVOT H4SUP","H4[-1/8]","D1[3/8] H4[-2/8]"],
            "range": [[1,0],[14,10],[1,0],[14,10],[1,0],[14,10],[1,0],[14,10],[1,0]]
          }
        },
        "strokeWidth": {"condition": {"test": "datum.name == 'MN1PIVOT W1RES D1PIVOT H4SUP'", "value": 2}, "value": 1.5}
      }
    },
    {
      "data": {"name": "levels"},
      "mark": {"type": "text", "clip": true, "align": "center", "baseline": "top", "dy": 2, "font": "Liberation Sans", "fontSize": 20.5},
      "encoding": {
        "x": {"datum": 450, "type": "quantitative", "title": null, "scale": {"domain": [-0.25, 936.75], "nice": false, "zero": false}},
        "y": {"field": "price", "type": "quantitative", "title": null, "scale": {"domain": [109.224, 114.8085], "nice": false, "zero": false}},
        "text": {"field": "name"},
        "color": {
          "field": "name",
          "type": "nominal",
          "legend": null,
          "scale": {
            "domain": ["D1[7/8] H4[6/8]","H4[5/8]","W1[+1/8] D1[6/8] H4PIVOT","H4[3/8]","D1[5/8] H4[2/8]","H4[1/8]","MN1PIVOT W1RES D1PIVOT H4SUP","H4[-1/8]","D1[3/8] H4[-2/8]"],
            "range": ["#FF4500","#556B2F","#1E90FF","#556B2F","#FF4500","#FF8C00","#1E90FF","#FF00FF","#C71585"]
          }
        }
      }
    },
    {
      "data": {"name": "bars"},
      "mark": {"type": "rule", "color": "black", "strokeWidth": 1.1},
      "encoding": {
        "x": {"field": "i", "type": "quantitative", "title": null, "scale": {"domain": [-0.25, 936.75], "nice": false, "zero": false}},
        "y": {"field": "l", "type": "quantitative", "title": null, "scale": {"domain": [109.224, 114.8085], "nice": false, "zero": false}},
        "y2": {"field": "h"}
      }
    },
    {
      "data": {"name": "bars"},
      "mark": {"type": "bar", "size": 2, "stroke": "black", "strokeWidth": 1},
      "encoding": {
        "x": {"field": "i", "type": "quantitative", "title": null, "scale": {"domain": [-0.25, 936.75], "nice": false, "zero": false}},
        "y": {"field": "o", "type": "quantitative", "title": null, "scale": {"domain": [109.224, 114.8085], "nice": false, "zero": false}},
        "y2": {"field": "c"},
        "fill": {"condition": {"test": "datum.c >= datum.o", "value": "white"}, "value": "black"}
      }
    },
    {
      "data": {"values": [{"price": 112.853}]},
      "mark": {"type": "rect", "color": "black", "yOffset": -11.5, "y2Offset": 11.5},
      "encoding": {
        "x": {"datum": 937.3, "type": "quantitative", "title": null, "scale": {"domain": [-0.25, 936.75], "nice": false, "zero": false}},
        "x2": {"datum": 957.5},
        "y": {"field": "price", "type": "quantitative", "title": null, "scale": {"domain": [109.224, 114.8085], "nice": false, "zero": false}},
        "y2": {"field": "price"}
      }
    },
    {
      "data": {"values": [{"price": 112.853}]},
      "mark": {"type": "text", "align": "left", "baseline": "middle", "dy": 1, "font": "DejaVu Sans", "fontSize": 14.5, "fontWeight": "bold", "color": "white"},
      "encoding": {
        "x": {"datum": 939.7, "type": "quantitative", "title": null, "scale": {"domain": [-0.25, 936.75], "nice": false, "zero": false}},
        "y": {"field": "price", "type": "quantitative", "title": null, "scale": {"domain": [109.224, 114.8085], "nice": false, "zero": false}},
        "text": {"field": "price", "format": ".3f"}
      }
    },
    {
      "data": {"name": "levels"},
      "transform": [{"filter": "datum.price < 114.8"}],
      "mark": {"type": "rect", "yOffset": -11.5, "y2Offset": 11.5},
      "encoding": {
        "x": {"datum": 937.3, "type": "quantitative", "title": null, "scale": {"domain": [-0.25, 936.75], "nice": false, "zero": false}},
        "x2": {"datum": 957.5},
        "y": {"field": "price", "type": "quantitative", "title": null, "scale": {"domain": [109.224, 114.8085], "nice": false, "zero": false}},
        "y2": {"field": "price"},
        "color": {
          "field": "name",
          "type": "nominal",
          "legend": null,
          "scale": {
            "domain": ["D1[7/8] H4[6/8]","H4[5/8]","W1[+1/8] D1[6/8] H4PIVOT","H4[3/8]","D1[5/8] H4[2/8]","H4[1/8]","MN1PIVOT W1RES D1PIVOT H4SUP","H4[-1/8]","D1[3/8] H4[-2/8]"],
            "range": ["#FF4500","#556B2F","#1E90FF","#556B2F","#FF4500","#FF8C00","#1E90FF","#FF00FF","#C71585"]
          }
        }
      }
    },
    {
      "data": {"name": "levels"},
      "transform": [{"filter": "datum.price < 114.8"}],
      "mark": {"type": "text", "align": "left", "baseline": "middle", "dy": 1, "font": "DejaVu Sans", "fontSize": 14.5, "fontWeight": "bold", "color": "white"},
      "encoding": {
        "x": {"datum": 939.7, "type": "quantitative", "title": null, "scale": {"domain": [-0.25, 936.75], "nice": false, "zero": false}},
        "y": {"field": "price", "type": "quantitative", "title": null, "scale": {"domain": [109.224, 114.8085], "nice": false, "zero": false}},
        "text": {"field": "price", "format": ".3f"}
      }
    },
    {
      "data": {"values": [{}]},
      "mark": {"type": "point", "shape": "triangle-down", "filled": true, "size": 170, "color": "#a9a9a9", "opacity": 1},
      "encoding": {
        "x": {"datum": 477, "type": "quantitative", "title": null, "scale": {"domain": [-0.25, 936.75], "nice": false, "zero": false}},
        "y": {"datum": 114.793, "type": "quantitative", "title": null, "scale": {"domain": [109.224, 114.8085], "nice": false, "zero": false}}
      }
    },
    {
      "data": {"values": [{"caption": "▼ USDJPY,H4  112.943 112.951 112.852 112.853"}]},
      "mark": {"type": "text", "align": "left", "baseline": "alphabetic", "font": "Liberation Sans", "fontSize": 18.5, "color": "black"},
      "encoding": {
        "x": {"datum": 1.75, "type": "quantitative", "title": null, "scale": {"domain": [-0.25, 936.75], "nice": false, "zero": false}},
        "y": {"datum": 114.7503, "type": "quantitative", "title": null, "scale": {"domain": [109.224, 114.8085], "nice": false, "zero": false}},
        "text": {"field": "caption"}
      }
    }
  ],
  "config": {
    "view": {"stroke": "black", "strokeWidth": 1.5, "fill": "white"}
  }
}
